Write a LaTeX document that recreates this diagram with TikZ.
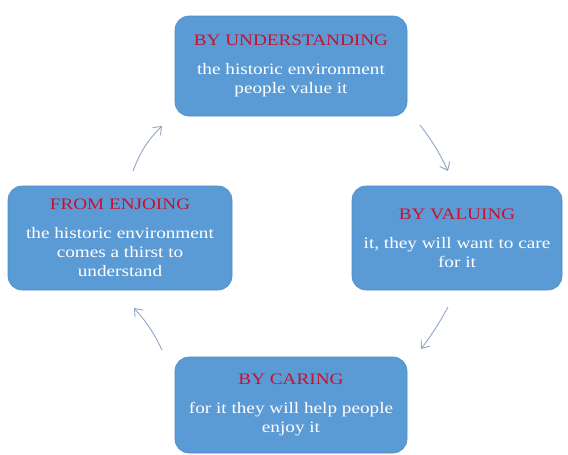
\documentclass[tikz,border=0pt]{standalone}
\usepackage{fontspec}
\setmainfont[FakeStretch=1.2]{Liberation Serif}
\usetikzlibrary{arrows.meta}
\definecolor{boxblue}{HTML}{5B9BD5}
\definecolor{boxedge}{HTML}{4F8BC4}
\definecolor{titlered}{HTML}{C8102E}
\definecolor{arrowc}{HTML}{8FA6C4}
\tikzset{
  cyclebox/.style={fill=boxblue, draw=boxedge, line width=0.6pt, rounded corners=14pt,
    align=center, text=white, inner sep=0pt,
    font=\fontsize{16}{19}\selectfont},
  cyclearrow/.style={draw=arrowc, line width=0.9pt, -{Straight Barb[length=7pt,width=11pt]}}
}
\newcommand{\ttl}[1]{\textcolor{titlered}{#1}\\[10pt]}
\begin{document}
\begin{tikzpicture}[x=1pt,y=-1pt]
\useasboundingbox (0,0) rectangle (568,455);
\node[cyclebox, minimum width=232pt, minimum height=100pt] (top) at (291,66)
  {\ttl{BY UNDERSTANDING}the historic environment\\people value it};
\node[cyclebox, minimum width=224pt, minimum height=104pt] (left) at (120,238)
  {\ttl{FROM ENJOING}the historic environment\\comes a thirst to\\understand};
\node[cyclebox, minimum width=210pt, minimum height=104pt] (right) at (457,238)
  {\ttl{BY VALUING}it, they will want to care\\for it};
\node[cyclebox, minimum width=232pt, minimum height=96pt] (bottom) at (291,405)
  {\ttl{BY CARING}for it they will help people\\enjoy it};
\coordinate (a1s) at (133,171); \coordinate (a1e) at (162,126);
\coordinate (a2s) at (420,125); \coordinate (a2e) at (448,171);
\coordinate (a3s) at (448,307); \coordinate (a3e) at (421,349);
\coordinate (a4s) at (162,350); \coordinate (a4e) at (134,308);
\draw[cyclearrow] (a1s) to[bend left=12] (a1e);
\draw[cyclearrow] (a2s) to[bend left=6] (a2e);
\draw[cyclearrow] (a3s) to[bend left=4] (a3e);
\draw[cyclearrow] (a4s) to[bend right=8] (a4e);
\end{tikzpicture}
\end{document}
